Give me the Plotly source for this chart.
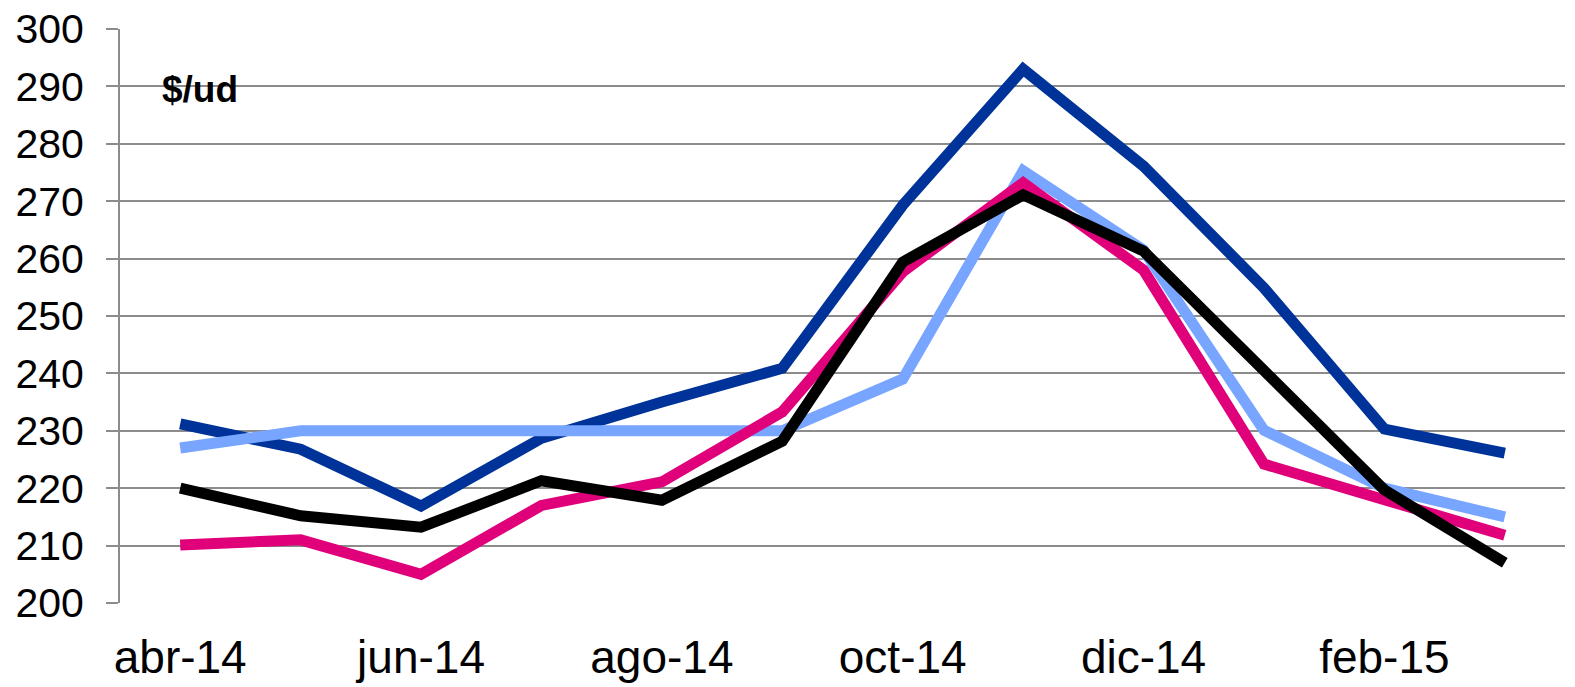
import plotly.graph_objects as go

months = ['abr-14', 'may-14', 'jun-14', 'jul-14', 'ago-14', 'sep-14',
          'oct-14', 'nov-14', 'dic-14', 'ene-15', 'feb-15', 'mar-15']
tick_labels = ['abr-14', 'jun-14', 'ago-14', 'oct-14', 'dic-14', 'feb-15']

dark_blue = [231.2, 226.8, 216.9, 228.7, 235.0, 240.9, 269.3, 293.0, 276.1, 254.9, 230.3, 226.1]
light_blue = [227.0, 230.0, 230.0, 230.0, 230.0, 230.0, 239.0, 275.3, 261.5, 230.1, 220.0, 215.0]
pink = [210.1, 211.0, 205.0, 217.0, 221.1, 233.3, 257.7, 273.2, 258.0, 224.2, 218.0, 211.8]
black = [220.0, 215.2, 213.2, 221.3, 217.9, 228.2, 259.4, 271.1, 261.3, 240.6, 219.7, 207.0]

series = [
    (dark_blue, '#003399'),
    (light_blue, '#77A5FF'),
    (pink, '#E0007A'),
    (black, '#000000'),
]

fig = go.Figure()
for values, color in series:
    fig.add_trace(go.Scatter(x=months, y=values, mode='lines',
                             line=dict(color=color, width=11),
                             showlegend=False))

# the page adds an 8px body margin, so the figure is a bit smaller than the window
fig.update_layout(
    width=1567, height=679,
    margin=dict(l=112, r=10, t=21, b=84),
    paper_bgcolor='white', plot_bgcolor='white',
    font=dict(family='Liberation Sans, Arial', size=41, color='black'),
    xaxis=dict(
        type='category',
        range=[-0.5, 11.5],
        tickvals=tick_labels,
        tickfont=dict(size=46),
        showgrid=False,
        showline=False,
        ticks='',
        ticklabelstandoff=23,
        automargin=False,
    ),
    yaxis=dict(
        range=[200, 300],
        dtick=10,
        showgrid=True,
        gridcolor='#8c8c8c',
        gridwidth=2,
        showline=True,
        linecolor='#8c8c8c',
        linewidth=2,
        ticks='outside',
        ticklen=12,
        tickcolor='#8c8c8c',
        tickwidth=2,
        zeroline=False,
        ticklabelstandoff=14,
        ticklabeloverflow='allow',
        automargin=False,
    ),
    annotations=[dict(
        text='<b>$/ud</b>', xref='paper', yref='paper',
        x=0.028, y=0.894, xanchor='left', yanchor='middle',
        showarrow=False, font=dict(size=37, color='black'),
    )],
)

fig.write_html('out.html')
